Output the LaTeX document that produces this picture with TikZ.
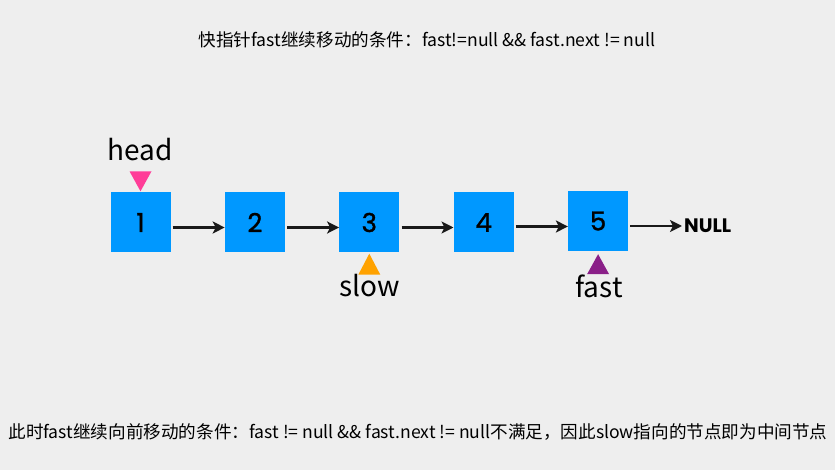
\documentclass[tikz,border=0pt]{standalone}
\usepackage{fontspec}
\setmainfont{Noto Sans CJK SC}
\newfontfamily\numfont[FakeBold=1.2]{Poppins}
\newfontfamily\endfont{Poppins}
\usetikzlibrary{positioning,arrows.meta}
\definecolor{bgGray}{HTML}{EEEEEE}
\definecolor{boxBlue}{HTML}{0098FF}
\definecolor{headPink}{HTML}{FF3D98}
\definecolor{slowOrange}{HTML}{FFA200}
\definecolor{fastPurple}{HTML}{8A1F88}

\begin{document}
\begin{tikzpicture}[x=1pt, y=-1pt,
    listnode/.style={rectangle, fill=boxBlue, minimum size=60pt, inner sep=0pt,
        font=\numfont\fontsize{26}{28}\selectfont},
    link/.style={-{Stealth[length=12pt,width=12pt,inset=3pt]}, line width=2.4pt, black!90},
    ptrlabel/.style={font=\fontsize{28}{30}\selectfont, inner sep=0pt},
    caption/.style={font=\fontsize{17.6}{20}\selectfont, inner sep=0pt},
    node distance=54pt]
    \fill[bgGray] (0,0) rectangle (835,470);

    \node[caption] (top) at (427,40) {快指针fast继续移动的条件：fast!=null \&\& fast.next != null};
    \node[caption] (bottom) at (418,432) {此时fast继续向前移动的条件：fast != null \&\& fast.next != null不满足，因此slow指向的节点即为中间节点};

    % linked list
    \node[listnode] (n1) at (140.5,222.5) {1};
    \node[listnode, right=of n1] (n2) {2};
    \node[listnode, right=of n2] (n3) {3};
    \node[listnode, right=of n3] (n4) {4};
    \node[listnode, right=of n4, yshift=1.5pt] (n5) {5};
    \node[font=\endfont\bfseries\fontsize{19.5}{21}\selectfont, inner sep=0pt, anchor=west]
        (null) at (684,226) {NULL};

    \draw[link] ([shift={(2,5)}]n1.east) -- ([shift={(0,5)}]n2.west);
    \draw[link] ([shift={(2,5)}]n2.east) -- ([shift={(0,5)}]n3.west);
    \draw[link] ([shift={(2,5)}]n3.east) -- ([shift={(0,5)}]n4.west);
    \draw[link] ([shift={(2,4)}]n4.east) -- ([shift={(0,5.5)}]n5.west);
    \draw[link] ([shift={(2,5)}]n5.east) -- ([shift={(-2,0)}]null.west);

    % pointers
    \fill[headPink] ([shift={(-11,-21)}]n1.north) -- ([shift={(11,-21)}]n1.north) -- ([shift={(0,-1)}]n1.north) -- cycle;
    \node[ptrlabel] (head) at (140,150) {head};
    \fill[slowOrange] ([shift={(-11,22)}]n3.south) -- ([shift={(11,22)}]n3.south) -- ([shift={(0,1)}]n3.south) -- cycle;
    \node[ptrlabel] (slow) at (370,286) {slow};
    \fill[fastPurple] ([shift={(-11,23)}]n5.south) -- ([shift={(11,23)}]n5.south) -- ([shift={(0,3)}]n5.south) -- cycle;
    \node[ptrlabel] (fast) at (599,286) {fast};
\end{tikzpicture}
\end{document}
